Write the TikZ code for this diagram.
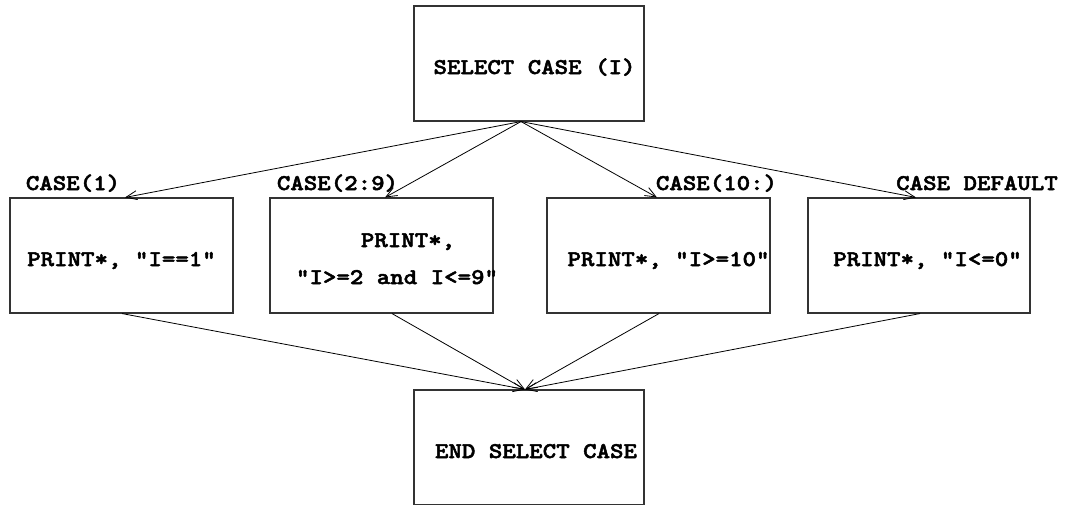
\documentclass[tikz,border=0pt]{standalone}
\usepackage{fontspec}
\newfontfamily\courfont[FakeStretch=1.14,FakeBold=2.2]{lmmonolt10-bold.otf}
\usetikzlibrary{arrows.meta,calc}
\begin{document}
\begin{tikzpicture}[x=1pt,y=-1pt,
  box/.style={draw=black!80,line width=1.1pt,inner sep=0pt,minimum height=115pt},
  txt/.style={font=\courfont\fontsize{22.5}{26}\selectfont,inner sep=0pt,anchor=base},
  link/.style={line width=0.8pt,-{Straight Barb[length=11pt,width=9pt,line width=0.8pt]}}]
\useasboundingbox (0,0) rectangle (1081,504);
\clip (0,0) rectangle (1081,504);
% boxes
\node[box,minimum width=230pt] (top) at (529,63.5) {};
\node[box,minimum width=223pt] (b1) at (121.5,255.5) {};
\node[box,minimum width=223pt] (b2) at (381.5,255.5) {};
\node[box,minimum width=223pt] (b3) at (658.5,255.5) {};
\node[box,minimum width=222pt] (b4) at (919,255.5) {};
\node[box,minimum width=230pt] (bot) at (529,447.5) {};
% texts
\node[txt] (ttop) at (534.5,74) {SELECT CASE (I)};
\node[txt] (l1) at (73,190) {CASE(1)};
\node[txt] (l2) at (337.5,190) {CASE(2:9)};
\node[txt] (l3) at (716.5,190) {CASE(10:)};
\node[txt] (l4) at (977,190) {CASE DEFAULT};
\node[txt] (t1) at (121.5,266) {PRINT*, "I==1"};
\node[txt] (t2a) at (408,247) {PRINT*,};
\node[txt] (t2b) at (397,284) {"I>=2 and I<=9"};
\node[txt] (t3) at (668.5,266) {PRINT*, "I>=10"};
\node[txt] (t4) at (927.5,266) {PRINT*, "I<=0"};
\node[txt] (tbot) at (536,458) {END SELECT CASE};
% connector points
\coordinate (src) at ($(top.south)+(-8,0)$);
\coordinate (dst) at ($(bot.north)+(-4,0)$);
\coordinate (i1) at ($(b1.north)+(3.5,0)$);
\coordinate (i2) at ($(b2.north)+(3.5,0)$);
\coordinate (i3) at ($(b3.north)+(-1.5,0)$);
\coordinate (i4) at ($(b4.north)+(-3,0)$);
\coordinate (o1) at ($(b1.south)+(0.5,0)$);
\coordinate (o2) at ($(b2.south)+(10.5,0)$);
\coordinate (o3) at ($(b3.south)+(0.5,0)$);
\coordinate (o4) at ($(b4.south)+(1,0)$);
\draw[link] (src) -- (i1);
\draw[link] (src) -- (i2);
\draw[link] (src) -- (i3);
\draw[link] (src) -- (i4);
\draw[link] (o1) -- (dst);
\draw[link] (o2) -- (dst);
\draw[link] (o3) -- (dst);
\draw[link] (o4) -- (dst);
\end{tikzpicture}
\end{document}
